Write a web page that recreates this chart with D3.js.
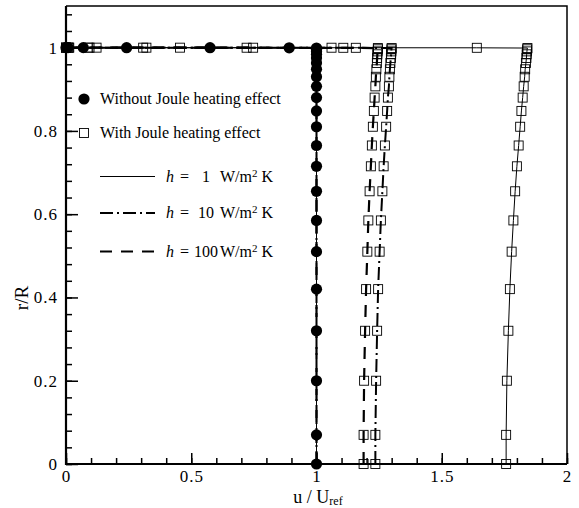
<!DOCTYPE html>
<html>
<head>
<meta charset="utf-8">
<script src="https://cdn.jsdelivr.net/npm/d3@7"></script>
<style>
  body { margin: 0; background: #fff; }
  svg { display: block; }
  svg text { font-family: 'Liberation Serif', 'Times New Roman', 'DejaVu Serif', serif !important; fill: #000; }
</style>
</head>
<body>
<script>
// radial grid (r/R), clustered towards the wall
const rGrid = [0, 0.07, 0.2, 0.32, 0.42, 0.51, 0.585, 0.655, 0.715, 0.765, 0.81, 0.848,
  0.88, 0.907, 0.93, 0.948, 0.963, 0.975, 0.984, 0.991, 0.996, 0.999,
  0.9996, 0.9998, 0.99991, 0.99996, 0.99999, 1];

// velocity without Joule heating (same for every h)
const uNoJoule = [1, 1, 1, 1, 1, 1, 1, 1, 1, 1, 1, 1, 1, 1, 1, 1, 1, 1, 1, 1, 1, 1,
  0.891, 0.575, 0.242, 0.069, 0.008, 0];

// velocity with Joule heating
const uJouleH1 = [1.757, 1.757, 1.760, 1.766, 1.772, 1.779, 1.786, 1.793, 1.800, 1.807, 1.813, 1.818,
  1.823, 1.827, 1.831, 1.833, 1.836, 1.838, 1.839, 1.840, 1.841, 1.842,
  1.64, 1.06, 0.455, 0.122, 0.013, 0];
const uJouleH10 = [1.235, 1.235, 1.238, 1.242, 1.246, 1.252, 1.257, 1.263, 1.268, 1.273, 1.278, 1.282,
  1.285, 1.289, 1.291, 1.293, 1.295, 1.297, 1.298, 1.299, 1.299, 1.300,
  1.157, 0.747, 0.321, 0.094, 0.010, 0];
const uJouleH100 = [1.188, 1.188, 1.190, 1.194, 1.198, 1.203, 1.207, 1.212, 1.217, 1.221, 1.225, 1.229,
  1.232, 1.235, 1.237, 1.239, 1.241, 1.242, 1.243, 1.244, 1.245, 1.245,
  1.107, 0.721, 0.308, 0.089, 0.010, 0];

const hLabels = ['1', '10', '100'];
const xTicks = [0, 0.5, 1, 1.5, 2];
const yTicks = [0, 0.2, 0.4, 0.6, 0.8, 1];

const width = 579, height = 508;
const margin = {top: 6, right: 12, bottom: 44, left: 66};

const x = d3.scaleLinear().domain([0, 2]).range([margin.left, width - margin.right]);
const y = d3.scaleLinear().domain([0, 1.1]).range([height - margin.bottom, margin.top]);

const svg = d3.select('body').append('svg')
  .attr('width', width).attr('height', height);

// line styles per h
const styles = [
  {dash: null, w: 1},
  {dash: '13,4,2,4', w: 2},
  {dash: '12,9', w: 2.2}
];

const toPts = u => u.map((v, i) => [v, rGrid[i]]);
const line = d3.line().x(d => x(d[0])).y(d => y(d[1]));

const joule = [uJouleH1, uJouleH10, uJouleH100];

// lines
joule.forEach((u, i) => {
  svg.append('path').datum(toPts(u))
    .attr('d', line).attr('fill', 'none').attr('stroke', '#000')
    .attr('stroke-width', styles[i].w)
    .attr('stroke-dasharray', styles[i].dash);
  svg.append('path').datum(toPts(uNoJoule))
    .attr('d', line).attr('fill', 'none').attr('stroke', '#000')
    .attr('stroke-width', styles[i].w)
    .attr('stroke-dasharray', styles[i].dash);
});

// markers: open squares (with Joule)
joule.forEach(u => {
  svg.append('g').selectAll('rect')
    .data(toPts(u))
    .join('rect')
    .attr('x', d => x(d[0]) - 4.5)
    .attr('y', d => y(d[1]) - 4.5)
    .attr('width', 9).attr('height', 9)
    .attr('fill', 'none').attr('stroke', '#000').attr('stroke-width', 0.9);
});

// markers: filled circles (without Joule)
svg.append('g').selectAll('circle')
  .data(toPts(uNoJoule))
  .join('circle')
  .attr('cx', d => x(d[0]))
  .attr('cy', d => y(d[1]))
  .attr('r', 5.6)
  .attr('fill', '#000');

// AXES (ticks point inward)
const xMinor = d3.range(0, 2.001, 0.1);
const yMinor = d3.range(0, 1.1, 0.04);

svg.append('g')
  .attr('transform', `translate(0,${y(0)})`)
  .call(d3.axisBottom(x).tickValues(xMinor).tickSize(-6).tickFormat(''))
  .call(g => g.select('.domain').remove());
svg.append('g')
  .attr('transform', `translate(0,${y(0)})`)
  .call(d3.axisBottom(x).tickValues(xTicks).tickSize(-11).tickPadding(6).tickFormat(d3.format('')))
  .call(g => g.select('.domain').remove())
  .call(g => g.selectAll('text').attr('font-size', 17).attr('letter-spacing', 1));

svg.append('g')
  .attr('transform', `translate(${x(0)},0)`)
  .call(d3.axisLeft(y).tickValues(yMinor).tickSize(-6).tickFormat(''))
  .call(g => g.select('.domain').remove());
svg.append('g')
  .attr('transform', `translate(${x(0)},0)`)
  .call(d3.axisLeft(y).tickValues(yTicks).tickSize(-12).tickPadding(8).tickFormat(d3.format('')))
  .call(g => g.select('.domain').remove())
  .call(g => g.selectAll('text').attr('font-size', 17).attr('letter-spacing', 1));

svg.selectAll('.tick line').attr('stroke', '#000').attr('stroke-width', 1.5);

// frame
svg.append('path')
  .attr('d', `M${x(0)},${y(1.1)}H${x(2)}V${y(0)}`)
  .attr('fill', 'none').attr('stroke', '#000').attr('stroke-width', 1.5);
svg.append('path')
  .attr('d', `M${x(0)},${y(1.1)}V${y(0)}H${x(2)}`)
  .attr('fill', 'none').attr('stroke', '#000').attr('stroke-width', 2.2);

// axis titles
const xt = svg.append('text')
  .attr('x', 318).attr('y', 503)
  .attr('text-anchor', 'middle').attr('font-size', 18);
xt.append('tspan').text('u / U');
xt.append('tspan').attr('font-size', 12).attr('dy', 2).text('ref');

svg.append('text')
  .attr('transform', 'translate(28,298) rotate(-90)')
  .attr('text-anchor', 'middle').attr('font-size', 19)
  .text('r/R');

// LEGEND
const lg = svg.append('g').attr('font-size', 16);
lg.append('circle').attr('cx', 84).attr('cy', 99).attr('r', 5.6).attr('fill', '#000');
lg.append('text').attr('x', 100).attr('y', 104).text('Without Joule heating effect');
lg.append('rect').attr('x', 79.5).attr('y', 128.5).attr('width', 9).attr('height', 9)
  .attr('fill', 'none').attr('stroke', '#000').attr('stroke-width', 0.9);
lg.append('text').attr('x', 100).attr('y', 138).text('With Joule heating effect');

const rowY = [176.5, 213, 251.5];
hLabels.forEach((h, i) => {
  lg.append('line')
    .attr('x1', 100).attr('x2', 155).attr('y1', rowY[i]).attr('y2', rowY[i])
    .attr('stroke', '#000').attr('stroke-width', styles[i].w)
    .attr('stroke-dasharray', styles[i].dash);
  const t = lg.append('text').attr('y', rowY[i] + 5);
  t.append('tspan').attr('x', 166).attr('font-style', 'italic').text('h');
  t.append('tspan').attr('x', 180).text('=');
  t.append('tspan').attr('x', 206).attr('text-anchor', 'middle').text(h);
  t.append('tspan').attr('x', 220).text('W/m');
  t.append('tspan').attr('font-size', 11).attr('dy', -5).text('2');
  t.append('tspan').attr('dy', 5).text(' K');
});
</script>
</body>
</html>
